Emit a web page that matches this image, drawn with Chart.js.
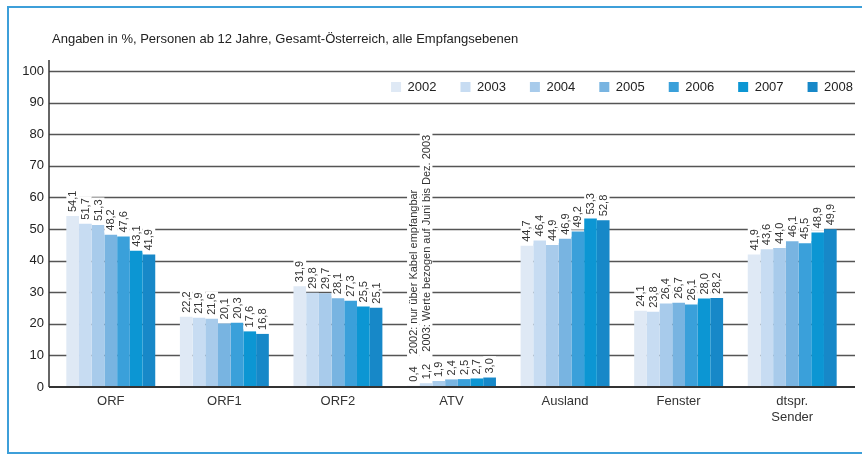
<!DOCTYPE html>
<html>
<head>
<meta charset="utf-8">
<script src="https://cdn.jsdelivr.net/npm/chart.js@4.4.1/dist/chart.umd.min.js"></script>
<style>
  html, body { margin: 0; padding: 0; background: #fff; }
  #rahmen {
    position: absolute; left: 7px; top: 6px; width: 855px; height: 448px;
    box-sizing: border-box;
    border-top: 2px solid #3d9fd9; border-left: 2px solid #3d9fd9; border-bottom: 2px solid #3d9fd9;
  }
  #wrap { position: absolute; left: 0; top: 0; width: 862px; height: 455px; }
</style>
</head>
<body>
<div id="rahmen"></div>
<div id="wrap"><canvas id="grafik" width="862" height="455"></canvas></div>
<script>
// Daten
const kategorien = ['ORF', 'ORF1', 'ORF2', 'ATV', 'Ausland', 'Fenster', ['dtspr.', 'Sender']];
const jahre = ['2002', '2003', '2004', '2005', '2006', '2007', '2008'];
const werte2002 = [54.1, 22.2, 31.9, 0.4, 44.7, 24.1, 41.9];
const werte2003 = [51.7, 21.9, 29.8, 1.2, 46.4, 23.8, 43.6];
const werte2004 = [51.3, 21.6, 29.7, 1.9, 44.9, 26.4, 44.0];
const werte2005 = [48.2, 20.1, 28.1, 2.4, 46.9, 26.7, 46.1];
const werte2006 = [47.6, 20.3, 27.3, 2.5, 49.2, 26.1, 45.5];
const werte2007 = [43.1, 17.6, 25.5, 2.7, 53.3, 28.0, 48.9];
const werte2008 = [41.9, 16.8, 25.1, 3.0, 52.8, 28.2, 49.9];
const hinweiseATV = ['2002: nur über Kabel empfangbar', '2003: Werte bezogen auf Juni bis Dez. 2003'];
const titel = 'Angaben in %, Personen ab 12 Jahre, Gesamt-Österreich, alle Empfangsebenen';

const farben = ['#dfe9f5', '#c7dcf2', '#a8cbeb', '#78b4e1', '#3aa0da', '#0c96d3', '#1788c8'];
const alleWerte = [werte2002, werte2003, werte2004, werte2005, werte2006, werte2007, werte2008];

const schrift = '"Liberation Sans", Arial, sans-serif';
Chart.defaults.font.family = schrift;

// Gitterlinien, Achsen und Beschriftungen selbst zeichnen
const zeichenPlugin = {
    id: 'zeichnen',
    beforeInit(chart) {
        // Legende soll keinen Platz im Layout belegen
        const fit = chart.legend.fit;
        chart.legend.fit = function () { fit.call(this); this.height = 0; };
    },
    afterLayout(chart) {
        const lg = chart.legend;
        const pad = lg.options.labels.padding;
        lg.top = chart.chartArea.top - 14.5;
        lg.bottom = lg.top + 40;
        lg.height = 40;
        lg.right = chart.chartArea.right + 4 + pad;
        // Titel bündig mit der Achse
        const tb = chart.titleBlock;
        tb.left = chart.chartArea.left - 2;
        tb.width = tb.right - tb.left;
    },
    beforeDatasetsDraw(chart) {
        const { ctx, chartArea } = chart;
        const y = chart.scales.y;
        ctx.save();
        ctx.strokeStyle = '#555';
        ctx.lineWidth = 1.4;
        y.ticks.forEach(t => {
            if (t.value === 0) return;
            const py = Math.round(y.getPixelForValue(t.value)) + 0.5;
            ctx.beginPath();
            ctx.moveTo(chartArea.left - 5, py);
            ctx.lineTo(chartArea.right + 6, py);
            ctx.stroke();
        });
        ctx.restore();
    },
    afterDatasetsDraw(chart) {
        const { ctx, chartArea } = chart;
        const y = chart.scales.y;

        // Werte über den Balken
        const eintraege = [];
        chart.data.datasets.forEach((ds, di) => {
            const meta = chart.getDatasetMeta(di);
            meta.data.forEach((bar, i) => {
                let text = ds.data[i].toFixed(1).replace('.', ',');
                if (kategorien[i] === 'ATV' && hinweiseATV[di]) text += '    ' + hinweiseATV[di];
                eintraege.push({ x: bar.x, y: bar.y, w: bar.width, text });
            });
        });
        ctx.save();
        ctx.font = '11px ' + schrift;
        ctx.fillStyle = '#fff';
        eintraege.forEach(e => {
            const tw = ctx.measureText(e.text).width;
            ctx.fillRect(e.x - e.w / 2, e.y - 4 - tw - 2, e.w, tw + 4);
        });
        ctx.fillStyle = '#333';
        ctx.textAlign = 'left';
        ctx.textBaseline = 'middle';
        eintraege.forEach(e => {
            ctx.save();
            ctx.translate(e.x + 0.5, e.y - 4);
            ctx.rotate(-Math.PI / 2);
            ctx.fillText(e.text, 0, 0);
            ctx.restore();
        });

        // Achsen
        const y0 = y.getPixelForValue(0);
        const yTop = y.getPixelForValue(100);
        ctx.strokeStyle = '#333';
        ctx.lineWidth = 1.5;
        ctx.beginPath();
        ctx.moveTo(chartArea.left - 5, yTop - 11);
        ctx.lineTo(chartArea.left - 5, y0);
        ctx.stroke();
        ctx.lineWidth = 2;
        ctx.beginPath();
        ctx.moveTo(chartArea.left - 5, y0);
        ctx.lineTo(chartArea.right + 6, y0);
        ctx.stroke();
        ctx.restore();
    }
};

const ctx = document.getElementById('grafik').getContext('2d');
new Chart(ctx, {
    type: 'bar',
    data: {
        labels: kategorien,
        datasets: jahre.map((jahr, i) => ({
            label: jahr,
            data: alleWerte[i],
            backgroundColor: farben[i],
            borderWidth: 0,
            categoryPercentage: 0.783,
            barPercentage: 1.0
        }))
    },
    options: {
        responsive: false,
        devicePixelRatio: 1,
        animation: false,
        layout: { padding: { left: 0, right: 13, top: 0, bottom: 0 } },
        plugins: {
            title: {
                display: true,
                text: titel,
                align: 'start',
                color: '#222',
                font: { size: 13, weight: 'normal' },
                padding: { top: 32, bottom: 23.4 }
            },
            legend: {
                position: 'top',
                align: 'end',
                labels: {
                    boxWidth: 10,
                    boxHeight: 10,
                    padding: 24,
                    color: '#222',
                    font: { size: 13 }
                }
            },
            tooltip: { enabled: false }
        },
        scales: {
            x: {
                grid: { display: false, drawTicks: false },
                border: { display: false },
                ticks: { color: '#333', font: { size: 13 }, padding: 7, maxRotation: 0 },
                afterFit(s) { s.height = 68; }
            },
            y: {
                min: 0,
                max: 100,
                grid: { display: false, drawTicks: false },
                border: { display: false },
                ticks: { stepSize: 10, color: '#222', font: { size: 13 }, padding: 10 },
                afterFit(s) { s.width = 54; }
            }
        }
    },
    plugins: [zeichenPlugin]
});
</script>
</body>
</html>
